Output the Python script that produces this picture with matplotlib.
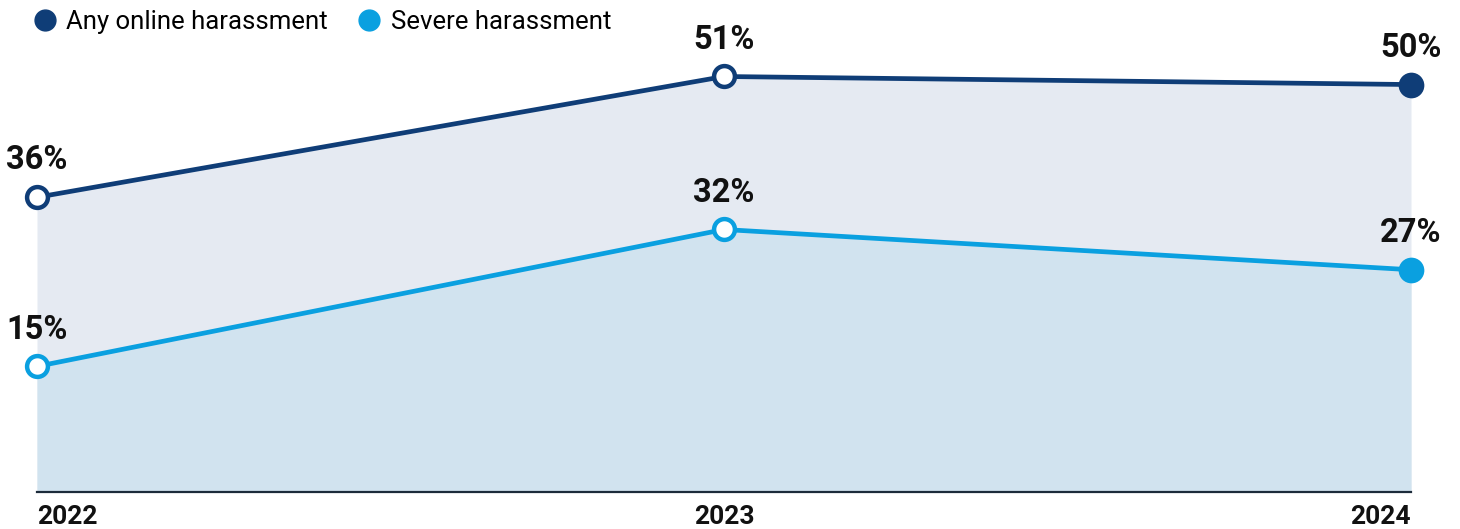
import matplotlib.pyplot as plt
from matplotlib.lines import Line2D

plt.rcParams['font.family'] = ['Roboto', 'DejaVu Sans']

years = [2022, 2023, 2024]
any_harassment = [36, 51, 50]
severe_harassment = [15, 32, 27]
series_names = ["Any online harassment", "Severe harassment"]

navy = "#0f3d77"
sky = "#0aa0e0"

fig = plt.figure(figsize=(14.6, 5.29), dpi=100)
ax = fig.add_axes([37 / 1460, 37 / 529, (1411 - 37) / 1460, 492 / 529])

ymin, ymax = -0.6, 60.5
ax.set_xlim(2022, 2024)
ax.set_ylim(ymin, ymax)

# shaded areas under each line
ax.fill_between(years, any_harassment, ymin, color="#e5eaf2", lw=0)
ax.fill_between(years, severe_harassment, ymin, color="#d1e3ef", lw=0)

for vals, col in [(any_harassment, navy), (severe_harassment, sky)]:
    ax.plot(years, vals, color=col, lw=3.4, solid_capstyle="round", zorder=3)
    # hollow markers for earlier years, solid for the latest
    ax.plot(years[:-1], vals[:-1], 'o', ms=15, mew=3.2, mfc="white", mec=col,
            clip_on=False, zorder=4)
    ax.plot(years[-1:], vals[-1:], 'o', ms=18.5, mew=0, mfc=col,
            clip_on=False, zorder=4)
    for x, v in zip(years, vals):
        ax.annotate(f"{v}%", (x, v), xytext=(0, 15), textcoords="offset points",
                    ha="center", va="bottom", fontsize=23.5, fontweight="bold",
                    color="#111111", zorder=5)

for s in ["top", "left", "right"]:
    ax.spines[s].set_visible(False)
ax.spines["bottom"].set_color("#1c2b3a")
ax.spines["bottom"].set_linewidth(1.6)
ax.set_yticks([])
ax.set_xticks(years)
ax.set_xticklabels([str(y) for y in years], fontsize=19, fontweight="bold",
                   color="#111111")
ax.tick_params(axis="x", length=0, pad=9)
for lab, ha in zip(ax.get_xticklabels(), ["left", "center", "right"]):
    lab.set_ha(ha)

handles = [Line2D([], [], marker='o', ls='', ms=15, mfc=c, mec=c)
           for c in (navy, sky)]
fig.legend(handles, series_names, loc="upper left", bbox_to_anchor=(0.005, 1.025),
           ncol=2, frameon=False, fontsize=18.5, handletextpad=0.3,
           columnspacing=1.05, handlelength=1.1)

fig.savefig("out.png", dpi=100)
